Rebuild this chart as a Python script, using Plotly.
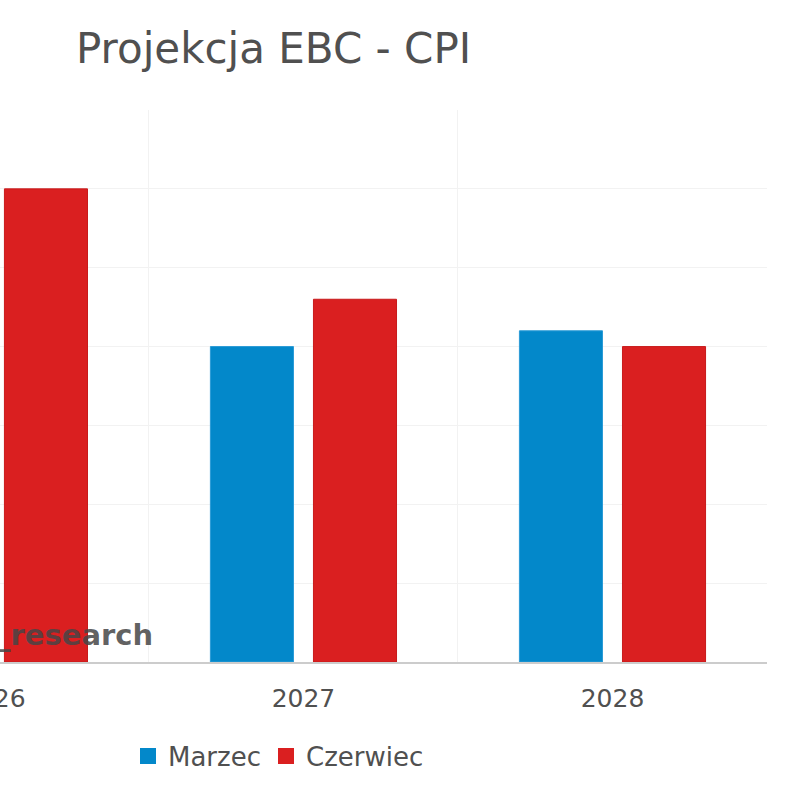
import plotly.graph_objects as go

# Data
years = ["2026", "2027", "2028"]
marzec = [2.6, 2.0, 2.1]
czerwiec = [3.0, 2.3, 2.0]
series_names = ["Marzec", "Czerwiec"]
title_text = "Projekcja EBC - CPI"
watermark = "_research"

BLUE = "#0388CA"
RED = "#DA1F20"
TEXT = "#505050"
FONT = "DejaVu Sans"

# visible x-range (chart is cropped on the left side)
x_range = [0.018, 2.5]

fig = go.Figure()
fig.add_trace(go.Bar(x=years, y=marzec, name=series_names[0], showlegend=False,
                     marker=dict(color=BLUE, line=dict(color="#2a9ad6", width=1))))
fig.add_trace(go.Bar(x=years, y=czerwiec, name=series_names[1], showlegend=False,
                     marker=dict(color=RED, line=dict(color="#c81a1b", width=1))))
# legend entries with larger square swatches
for nm, col in zip(series_names, [BLUE, RED]):
    fig.add_trace(go.Scatter(x=[None], y=[None], mode="markers", name=nm,
                             marker=dict(symbol="square", size=16, color=col)))

first_pos = (0 - x_range[0]) / (x_range[1] - x_range[0])

fig.update_layout(
    width=800, height=800,
    paper_bgcolor="white", plot_bgcolor="white",
    margin=dict(l=0, r=33, t=110, b=138),
    barmode="group", bargap=0.333, bargroupgap=0.194,
    title=dict(text=title_text, x=76/800, xanchor="left", xref="container",
               y=1-48/800, yanchor="middle", yref="container",
               font=dict(family=FONT, size=42, color=TEXT)),
    font=dict(family=FONT, color=TEXT),
    showlegend=True,
    legend=dict(orientation="h", xref="container", yref="container",
                x=128/800, xanchor="left", y=1-756/800, yanchor="middle",
                font=dict(family=FONT, size=26, color=TEXT),
                itemwidth=30, traceorder="normal", itemsizing="trace"),
    xaxis=dict(type="category", range=x_range, tickson="boundaries",
               showgrid=True, gridcolor="#f2f2f2", gridwidth=1,
               showline=True, linecolor="#cccccc", linewidth=2,
               ticks="", ticklen=0, ticklabelstandoff=13,
               tickfont=dict(family=FONT, size=25, color=TEXT)),
    yaxis=dict(range=[0, 3.5], dtick=0.5, showgrid=True, gridcolor="#f2f2f2",
               gridwidth=1, showticklabels=False, zeroline=False,
               fixedrange=True),
)

fig.add_annotation(text=years[0], xref="paper", yref="paper",
                   x=first_pos, y=0, xanchor="center", yanchor="top",
                   yshift=-20, showarrow=False,
                   font=dict(family=FONT, size=25, color=TEXT))

fig.add_annotation(text=watermark, xref="paper", yref="paper",
                   x=-0.008, y=(662-635)/552, xanchor="left", yanchor="middle",
                   showarrow=False,
                   font=dict(family=FONT, size=29, color="rgba(70,70,70,0.85)",
                             weight="bold"))

fig.write_html("out.html")
